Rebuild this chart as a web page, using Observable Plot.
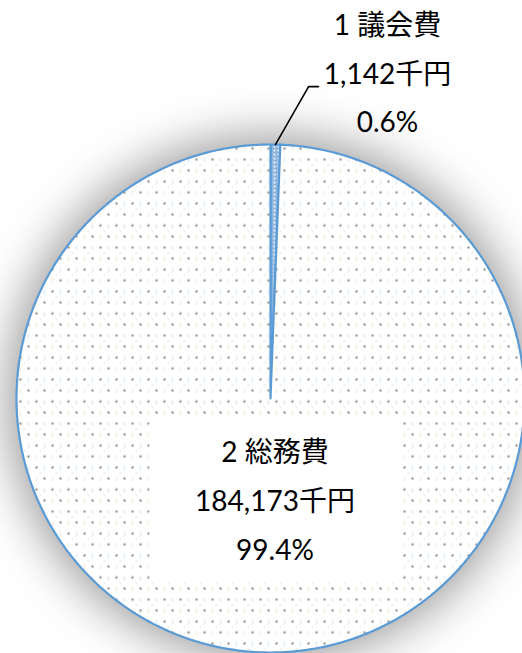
<!DOCTYPE html>
<html><head><meta charset="utf-8">
<script src="https://cdn.jsdelivr.net/npm/d3@7"></script>
<script src="https://cdn.jsdelivr.net/npm/@observablehq/plot@0.6"></script>
<style>
html,body{margin:0;padding:0;background:#fff;overflow:hidden;}
#chart svg{display:block;}
</style></head><body>
<svg width="0" height="0" style="position:absolute">
<defs>
<pattern id="dots2" width="16" height="22" patternUnits="userSpaceOnUse">
  <rect width="16" height="22" fill="#fff"/>
  <rect x="11" y="3" width="2" height="5" fill="#e6f0f9"/>
  <rect x="3" y="14" width="2" height="5" fill="#f8f3e6"/>
  <circle cx="4" cy="5" r="1.2" fill="#8f8f8f"/>
  <circle cx="12" cy="16" r="1.2" fill="#8f8f8f"/>
  <circle cx="8" cy="10.5" r="0.8" fill="#d6d6d6"/>
</pattern>
<pattern id="dots1" width="4" height="4" patternUnits="userSpaceOnUse">
  <rect width="4" height="4" fill="#8fb5dd"/>
  <rect x="1" y="1" width="2" height="2" fill="#e4eef8"/>
</pattern>
</defs></svg>
<div id="chart"></div>
<script>
// ---- data ----
const categories = ["1 議会費", "2 総務費"];
const amounts = [1142, 184173];          // 千円
const shares = ["0.6%", "99.4%"];
const unit = "千円";

// ---- layout config (not data) ----
const labelAnchor = [[0.4606, 1.2776], [0.0177, -0.405]]; // label centres, in pie-radius units
const leaderElbow = [[0.15, 1.228], [0.189, 1.228]];
const fmt = d3.format(",");

// slice polygons derived from the values
const total = d3.sum(amounts);
const slicePts = [];
let acc = 0;
categories.forEach((cat, i) => {
  const a0 = acc / total * 2 * Math.PI;
  acc += amounts[i];
  const a1 = acc / total * 2 * Math.PI;
  const n = Math.max(2, Math.ceil((a1 - a0) / (Math.PI / 360)));
  slicePts.push({cat, x: 0, y: 0});
  for (let k = 0; k <= n; k++) {
    const a = a0 + (a1 - a0) * k / n;
    slicePts.push({cat, x: Math.sin(a), y: Math.cos(a)});
  }
  slicePts.push({cat, x: 0, y: 0});
});
const mid0 = (amounts[0] / total) * Math.PI;
const leader = [
  {x: Math.sin(mid0), y: Math.cos(mid0)},
  {x: leaderElbow[0][0], y: leaderElbow[0][1]},
  {x: leaderElbow[1][0], y: leaderElbow[1][1]}
];
const labels = categories.map((c, i) => ({
  x: labelAnchor[i][0], y: labelAnchor[i][1],
  text: `${c}\n${fmt(amounts[i])}${unit}\n${shares[i]}`
}));

const chart = Plot.plot({
  width: 522, height: 653,
  x: {domain: [-1, 1], range: [16, 524], axis: null},
  y: {domain: [-1, 1], range: [652, 144], axis: null},
  color: {domain: categories, range: ["url(#dots1)", "url(#dots2)"]},
  style: {background: "transparent", overflow: "visible"},
  marks: [
    Plot.dot([{x: 0, y: 0}], {x: "x", y: "y", r: 262, fill: "#000", fillOpacity: 0.4}),
    Plot.line(slicePts, {x: "x", y: "y", z: "cat", fill: "cat", stroke: "#5B9BD5", strokeWidth: 2.2, strokeLinejoin: "round"}),
    Plot.line(leader, {x: "x", y: "y", stroke: "#000", strokeWidth: 1.6}),
    Plot.rect([labels[1]], {x1: "x", x2: "x", y1: "y", y2: "y", fill: "#fff",
      insetLeft: -125, insetRight: -126, insetTop: -82, insetBottom: -81}),
    Plot.text(labels, {x: "x", y: "y", text: "text", fontSize: 28, lineHeight: 1.74, dy: -6,
      fill: "#000", fontFamily: "Lato, 'Noto Sans CJK JP', sans-serif"})
  ]
});
document.getElementById("chart").append(chart);
const svg = d3.select(chart);
const f = svg.insert("defs", ":first-child").append("filter").attr("id", "soft")
  .attr("filterUnits", "userSpaceOnUse")
  .attr("x", -200).attr("y", -200).attr("width", 1000).attr("height", 1100);
f.append("feGaussianBlur").attr("stdDeviation", 24);
svg.selectAll('g[aria-label="dot"] circle').attr("filter", "url(#soft)");
</script>
</body></html>
